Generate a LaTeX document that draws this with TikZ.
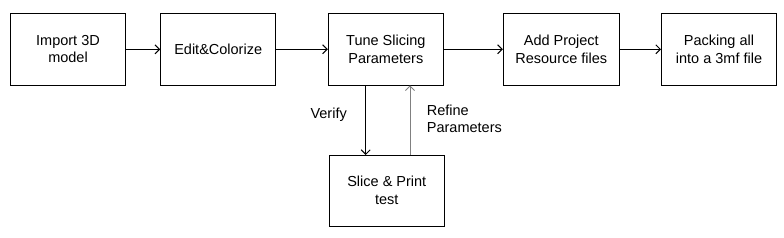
\documentclass[tikz,border=0pt]{standalone}
\usepackage{fontspec}
\setmainfont{Liberation Sans}
\usetikzlibrary{arrows.meta}
\begin{document}
\begin{tikzpicture}[x=1pt,y=-1pt,
  box/.style={draw=black,line width=1pt,minimum width=115pt,minimum height=72pt,inner sep=0pt,align=center,
    font=\fontsize{14.5pt}{17.4pt}\selectfont},
  lbl/.style={font=\fontsize{14.5pt}{17.4pt}\selectfont,inner sep=0pt,align=left},
  conn/.style={line width=1pt,-{Straight Barb[length=4.5pt,width=9pt,line width=1pt]}}]
\useasboundingbox (0,0) rectangle (784,238);
\node[box] (b1) at (68,49.3) {Import 3D\\model};
\node[box] (b2) at (218.2,49.3) {Edit\&Colorize};
\node[box] (b3) at (385.8,49.3) {Tune Slicing\\Parameters};
\node[box,minimum width=116pt] (b4) at (561.3,49.3) {Add Project\\Resource files};
\node[box] (b5) at (719,49.3) {Packing all\\into a 3mf file};
\node[box,minimum height=71pt] (b6) at (386.8,190.5) {Slice \& Print\\test};
\draw[conn] (b1) -- (b2);
\draw[conn] (b2) -- (b3);
\draw[conn] (b3) -- (b4);
\draw[conn] (b4) -- (b5);
\coordinate (v1) at (365.7,85.3);
\coordinate (v2) at (365.7,155);
\coordinate (r1) at (410,155);
\coordinate (r2) at (410,85.3);
\draw[conn] (v1) -- (v2);
\draw[conn,draw={rgb,255:red,128;green,128;blue,128}] (r1) -- (r2);
\node[lbl,anchor=east] (verify) at (347,115) {Verify};
\node[lbl,anchor=west] (refine) at (426.7,119) {Refine\\Parameters};
\end{tikzpicture}
\end{document}
